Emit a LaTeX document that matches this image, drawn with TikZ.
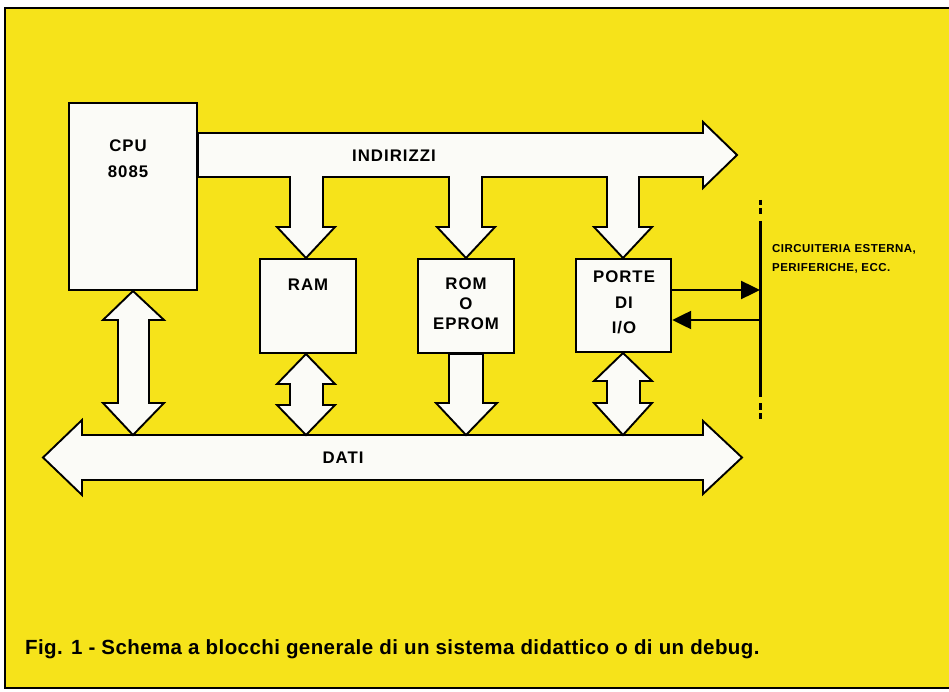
\documentclass[tikz,border=0pt]{standalone}
\usepackage{fontspec}
\setmainfont{Liberation Sans}
\newfontfamily\lblfont{Liberation Sans}[LetterSpace=6.0]
\newfontfamily\smallfont{Liberation Sans}[LetterSpace=4.0]
\newfontfamily\capfont{Liberation Sans}[LetterSpace=2.0]
\usetikzlibrary{arrows.meta}
\definecolor{paper}{RGB}{246,227,26}
\definecolor{boxwhite}{RGB}{251,251,247}
\begin{document}
\begin{tikzpicture}[x=1pt,y=-1pt,
  busshape/.style={fill=boxwhite,draw=black,line width=1.9pt,line join=miter},
  blockbox/.style={draw=black,fill=boxwhite,line width=2.4pt,inner sep=0pt},
  lbl/.style={font=\lblfont\bfseries\fontsize{16.8}{20}\selectfont,text=black,inner sep=0pt,align=center},
  sig/.style={draw=black,line width=2.4pt,-{Triangle[length=19pt,width=18pt]}},
  extline/.style={draw=black,line width=3pt}]
\useasboundingbox (0,0) rectangle (949,692);
\fill[white] (0,0) rectangle (949,692);
\fill[paper] (5,8) rectangle (949,688);
\draw[line width=2pt] (949,8) -- (5,8) -- (5,688) -- (949,688);

% address bus (INDIRIZZI) with its three branches
\draw[busshape] (198,133) -- (703,133) -- (703,122) -- (737,155) -- (703,188) -- (703,177)
  -- (639,177) -- (639,227) -- (652,227) -- (623,258) -- (594,227) -- (607,227) -- (607,177)
  -- (482,177) -- (482,227) -- (495,227) -- (466,258) -- (437,227) -- (449,227) -- (449,177)
  -- (323,177) -- (323,227) -- (335,227) -- (306,258) -- (277,227) -- (290,227) -- (290,177)
  -- (198,177) -- cycle;

% data bus (DATI)
\draw[busshape] (82,435) -- (703,435) -- (703,421) -- (742,457.5) -- (703,494) -- (703,480)
  -- (82,480) -- (82,495) -- (43,457.5) -- (82,420) -- cycle;

% CPU <-> DATI
\draw[busshape] (133,291) -- (164,320) -- (149,320) -- (149,403) -- (164,403) -- (133,435)
  -- (103,403) -- (118,403) -- (118,320) -- (103,320) -- cycle;
% RAM <-> DATI
\draw[busshape] (306,354) -- (335,384) -- (323,384) -- (323,405) -- (335,405) -- (306,435)
  -- (277,405) -- (290,405) -- (290,384) -- (277,384) -- cycle;
% ROM -> DATI
\draw[busshape] (449,354) -- (449,403) -- (436,403) -- (466,435) -- (497,403) -- (483,403)
  -- (483,354) -- cycle;
% I/O <-> DATI
\draw[busshape] (623,353) -- (652,381) -- (640,381) -- (640,403) -- (652,403) -- (623,435)
  -- (594,403) -- (607,403) -- (607,381) -- (594,381) -- cycle;

% blocks
\node[blockbox,minimum width=128pt,minimum height=187pt] (cpu) at (133,196.5) {};
\node[blockbox,minimum width=96pt,minimum height=94pt] (ram) at (308,306) {};
\node[blockbox,minimum width=96pt,minimum height=94pt] (rom) at (466,306) {};
\node[blockbox,minimum width=95pt,minimum height=93pt] (io) at (623.5,305.5) {};

\node[lbl,font=\lblfont\bfseries\fontsize{16.8}{26}\selectfont] (cputxt) at (128,159) {CPU\\8085};
\node[lbl] (ramtxt) at (308,285) {RAM};
\node[lbl,font=\lblfont\bfseries\fontsize{16.8}{20}\selectfont] (romtxt) at (466,304) {ROM\\O\\EPROM};
\node[lbl,font=\lblfont\bfseries\fontsize{16.8}{25.5}\selectfont] (iotxt) at (624,302.5) {PORTE\\DI\\I/O};
\node[lbl] (addrtxt) at (394,156) {INDIRIZZI};
\node[lbl] (datatxt) at (343,458) {DATI};

% external circuitry line
\coordinate (exttop) at (760,221);
\coordinate (extbot) at (760,397);
\coordinate (bo) at (760,290);
\coordinate (bi) at (760,320);
\draw[extline] (exttop) -- (extbot);
\draw[extline] (760,200) -- (760,205);
\draw[extline] (760,208.5) -- (760,214.5);
\draw[extline] (760,403) -- (760,409.5);
\draw[extline] (760,413) -- (760,419);
\draw[sig] ([yshift=15.5pt]io.east) -- (bo);
\draw[sig] (bi) -- ([yshift=-14.5pt]io.east);

\node[anchor=north west,align=left,inner sep=0pt,text=black,
  font=\smallfont\bfseries\fontsize{11.5}{19}\selectfont] (exttxt) at (772,244)
  {CIRCUITERIA ESTERNA,\\PERIFERICHE, ECC.};

\node[anchor=base west,inner sep=0pt,text=black,font=\capfont\bfseries\fontsize{20.5}{23}\selectfont]
  (caption) at (25,654) {Fig. 1 - Schema a blocchi generale di un sistema didattico o di un debug.};
\end{tikzpicture}
\end{document}
